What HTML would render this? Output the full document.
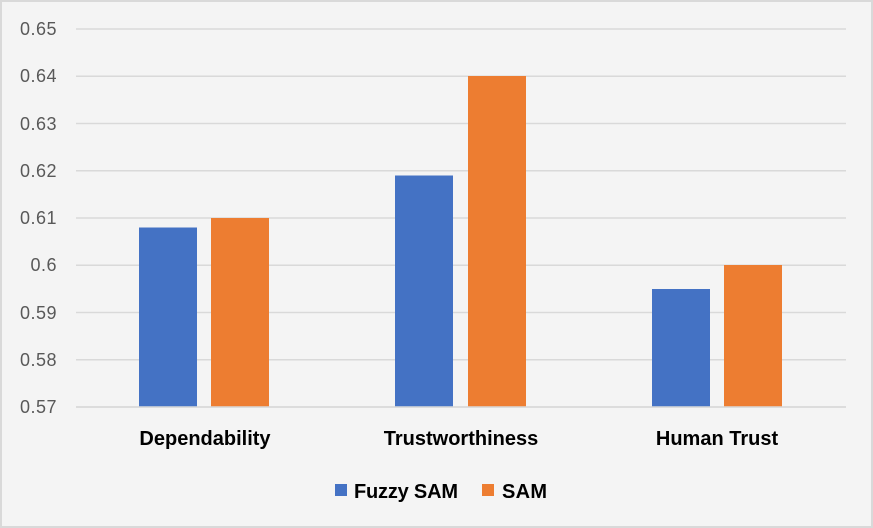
<!DOCTYPE html>
<html><head><style>
html,body{margin:0;padding:0;background:#fff}
svg{display:block;font-family:"Liberation Sans",sans-serif}
</style></head><body>
<svg width="873" height="528" viewBox="0 0 873 528" xmlns="http://www.w3.org/2000/svg">
<rect x="1" y="1" width="871" height="526" fill="#f4f4f4" stroke="#d9d9d9" stroke-width="2"/>
<g stroke="#d9d9d9" stroke-width="1.5">
<line x1="76" x2="846" y1="29" y2="29"/>
<line x1="76" x2="846" y1="76.25" y2="76.25"/>
<line x1="76" x2="846" y1="123.5" y2="123.5"/>
<line x1="76" x2="846" y1="170.75" y2="170.75"/>
<line x1="76" x2="846" y1="218" y2="218"/>
<line x1="76" x2="846" y1="265.25" y2="265.25"/>
<line x1="76" x2="846" y1="312.5" y2="312.5"/>
<line x1="76" x2="846" y1="359.75" y2="359.75"/>
<line x1="76" x2="846" y1="407" y2="407"/>
</g>
<g font-size="18" fill="#595959" text-anchor="end" letter-spacing="0.5">
<text x="57" y="35">0.65</text>
<text x="57" y="82">0.64</text>
<text x="57" y="130">0.63</text>
<text x="57" y="177">0.62</text>
<text x="57" y="224">0.61</text>
<text x="57" y="271">0.6</text>
<text x="57" y="319">0.59</text>
<text x="57" y="366">0.58</text>
<text x="57" y="413">0.57</text>
</g>
<g fill="#4472c4">
<rect x="139" y="227.5" width="58" height="179.5"/>
<rect x="395" y="175.5" width="58" height="231.5"/>
<rect x="652" y="289" width="58" height="118"/>
</g>
<g fill="#ed7d31">
<rect x="211" y="218" width="58" height="189"/>
<rect x="468" y="76" width="58" height="331"/>
<rect x="724" y="265" width="58" height="142"/>
</g>
<line x1="76" x2="846" y1="407" y2="407" stroke="#d9d9d9" stroke-width="1.5"/>
<g font-size="20" font-weight="bold" fill="#000" text-anchor="middle">
<text x="205" y="445">Dependability</text>
<text x="461" y="445">Trustworthiness</text>
<text x="717" y="445">Human Trust</text>
</g>
<rect x="335" y="484" width="12" height="12" fill="#4472c4"/>
<text x="354" y="498" font-size="20" font-weight="bold" textLength="104">Fuzzy SAM</text>
<rect x="482" y="484" width="12" height="12" fill="#ed7d31"/>
<text x="502" y="498" font-size="20" font-weight="bold" textLength="45">SAM</text>
</svg>
</body></html>
